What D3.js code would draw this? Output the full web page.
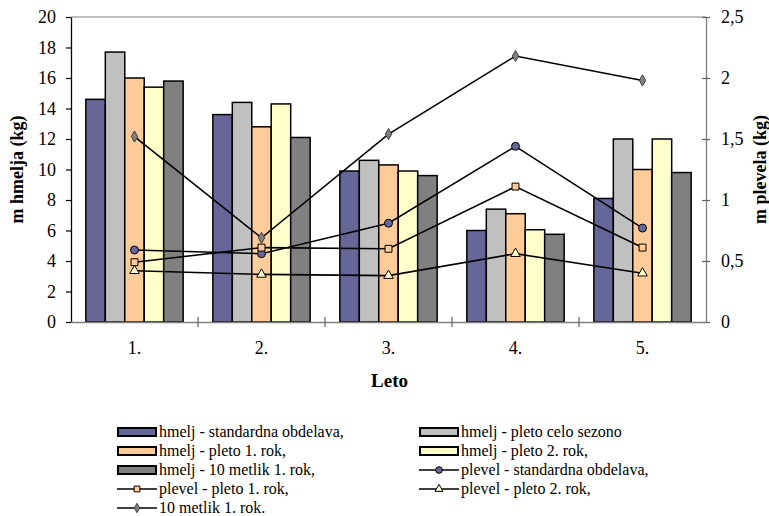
<!DOCTYPE html>
<html><head><meta charset="utf-8">
<script src="https://cdn.jsdelivr.net/npm/d3@7"></script>
</head><body style="margin:0;background:#fff">
<svg id="c" width="769" height="516" style="font-family:'Liberation Serif'"></svg>
<script>
const categories = ["1.", "2.", "3.", "4.", "5."];
const barSeries = ["hmelj - standardna obdelava,", "hmelj - pleto celo sezono", "hmelj - pleto 1. rok,", "hmelj - pleto 2. rok,", "hmelj - 10 metlik 1. rok,"];
const barColors = ["#666699", "#C0C0C0", "#FFCC99", "#FFFFCC", "#808080"];
const hmeljStandard = [14.6, 13.6, 9.9, 6.0, 8.1];
const hmeljCeloSezono = [17.7, 14.4, 10.6, 7.4, 12.0];
const hmeljPleto1 = [16.0, 12.8, 10.3, 7.1, 10.0];
const hmeljPleto2 = [15.4, 14.3, 9.9, 6.05, 12.0];
const hmelj10Metlik = [15.8, 12.1, 9.6, 5.75, 9.8];
const lineSeries = ["plevel - standardna obdelava,", "plevel - pleto 1. rok,", "plevel - pleto 2. rok,", "10 metlik 1. rok."];
const plevelStandard = [0.59, 0.56, 0.81, 1.44, 0.77];
const plevelPleto1 = [0.49, 0.61, 0.60, 1.11, 0.61];
const plevelPleto2 = [0.42, 0.39, 0.38, 0.56, 0.40];
const plevel10Metlik = [1.52, 0.69, 1.54, 2.18, 1.98];
const leftTicks = [0, 2, 4, 6, 8, 10, 12, 14, 16, 18, 20];
const rightTicks = [0, 0.5, 1, 1.5, 2, 2.5];

const barValues = [hmeljStandard, hmeljCeloSezono, hmeljPleto1, hmeljPleto2, hmelj10Metlik];
const lineValues = [plevelStandard, plevelPleto1, plevelPleto2, plevel10Metlik];
const lineMarkers = [
  {type: d3.symbolCircle, size: 50, fill: "#666699"},
  {type: d3.symbolSquare, size: 48, fill: "#FFCC99"},
  {type: d3.symbolTriangle, size: 40, fill: "#FFFFCC"},
  {type: d3.symbolDiamond, size: 36, fill: "#808080"}
];
const FONT = '"Liberation Serif"';

const svg = d3.select("#c");
const L = 71, R = 706, T = 17, B = 322;
const x0 = d3.scaleBand().domain(categories).range([L, R]).padding(0);
const x1 = d3.scaleBand().domain(d3.range(barSeries.length)).range([0, x0.bandwidth()]).paddingInner(0).paddingOuter(0.763);
const yL = d3.scaleLinear().domain([0, 20]).range([B, T]);
const yR = d3.scaleLinear().domain([0, 2.5]).range([B, T]);

svg.append("line").attr("x1", L).attr("x2", R).attr("y1", T).attr("y2", T).attr("stroke", "#808080").attr("stroke-width", 1);

barValues.forEach((vals, si) => {
  svg.append("g").selectAll("rect").data(vals).join("rect")
    .attr("x", (d, i) => x0(categories[i]) + x1(si))
    .attr("y", d => yL(d))
    .attr("width", x1.bandwidth())
    .attr("height", d => yL(0) - yL(d))
    .attr("fill", barColors[si])
    .attr("stroke", "#000").attr("stroke-width", 1.5);
});

const cx = (i) => x0(categories[i]) + x0.bandwidth() / 2;
lineValues.forEach((vals) => {
  const line = d3.line().x((d, i) => cx(i)).y(d => yR(d));
  svg.append("path").datum(vals).attr("d", line).attr("fill", "none").attr("stroke", "#000").attr("stroke-width", 1.6);
});
lineValues.forEach((vals, si) => {
  const m = lineMarkers[si];
  svg.append("g").selectAll("path").data(vals).join("path")
    .attr("transform", (d, i) => `translate(${cx(i)},${yR(d)})`)
    .attr("d", d3.symbol().type(m.type).size(m.size))
    .attr("fill", m.fill).attr("stroke", si === 3 ? "#404040" : "#000").attr("stroke-width", 1);
});

function styleAxis(g) {
  g.attr("font-family", null).attr("font-size", null);
  g.selectAll("text").style("font-family", FONT).style("font-size", "18px").attr("fill", "#000");
}

const gL = svg.append("g").attr("transform", `translate(${L},0)`)
  .call(d3.axisLeft(yL).tickValues(leftTicks).tickSize(5).tickSizeOuter(0).tickPadding(10));
gL.select(".domain").attr("stroke", "#000").attr("stroke-width", 1.3);
gL.selectAll(".tick line").attr("stroke", "#000").attr("stroke-width", 1.2);
styleAxis(gL);

const gR = svg.append("g").attr("transform", `translate(${R},0)`)
  .call(d3.axisRight(yR).tickValues(rightTicks).tickSize(4).tickSizeOuter(0).tickPadding(11)
    .tickFormat(d => String(d).replace(".", ",")));
gR.select(".domain").attr("stroke", "#808080").attr("stroke-width", 1.3);
gR.selectAll(".tick line").attr("stroke", "#606060").attr("x1", -4).attr("stroke-width", 1.2);
styleAxis(gR);

const gB = svg.append("g").attr("transform", `translate(0,${B})`)
  .call(d3.axisBottom(x0).tickSize(0).tickSizeOuter(0).tickPadding(19));
gB.select(".domain").attr("stroke", "#808080").attr("stroke-width", 1.3);
styleAxis(gB);
const bounds = categories.slice(1).map(c => x0(c));
svg.append("g").selectAll("line").data(bounds).join("line")
  .attr("x1", d => d).attr("x2", d => d).attr("y1", B - 5).attr("y2", B + 5)
  .attr("stroke", "#606060").attr("stroke-width", 1.2);

svg.append("text").attr("transform", `translate(23,${(T + B) / 2}) rotate(-90)`)
  .attr("text-anchor", "middle").style("font-family", FONT).style("font-size", "18px").style("font-weight", "bold").text("m hmelja (kg)");
svg.append("text").attr("transform", `translate(766,${(T + B) / 2}) rotate(-90)`)
  .attr("text-anchor", "middle").style("font-family", FONT).style("font-size", "18px").style("font-weight", "bold").text("m plevela (kg)");
svg.append("text").attr("x", (L + R) / 2 + 1).attr("y", 387)
  .attr("text-anchor", "middle").style("font-family", FONT).style("font-size", "19px").style("font-weight", "bold").text("Leto");

const items = [];
barSeries.forEach((s, i) => items.push({label: s, kind: "bar", i}));
lineSeries.forEach((s, i) => items.push({label: s, kind: "line", i}));
const colX = [117, 419], rowY0 = 432, rowH = 19;
items.forEach((it, k) => {
  const col = k % 2, row = Math.floor(k / 2);
  const x = colX[col], y = rowY0 + row * rowH;
  const g = svg.append("g");
  if (it.kind === "bar") {
    g.append("rect").attr("x", x + 1).attr("y", y - 4).attr("width", 38).attr("height", 8)
      .attr("fill", barColors[it.i]).attr("stroke", "#000").attr("stroke-width", 2);
  } else {
    const m = lineMarkers[it.i];
    g.append("line").attr("x1", x).attr("x2", x + 40).attr("y1", y).attr("y2", y).attr("stroke", "#000").attr("stroke-width", 1.6);
    g.append("path").attr("transform", `translate(${x + 20},${y})`)
      .attr("d", d3.symbol().type(m.type).size(m.size * 0.7))
      .attr("fill", m.fill).attr("stroke", it.i === 3 ? "#404040" : "#000").attr("stroke-width", 1);
  }
  g.append("text").attr("x", x + 42).attr("y", y + 5).style("font-family", FONT).style("font-size", "16px").text(it.label);
});
</script>
</body></html>
